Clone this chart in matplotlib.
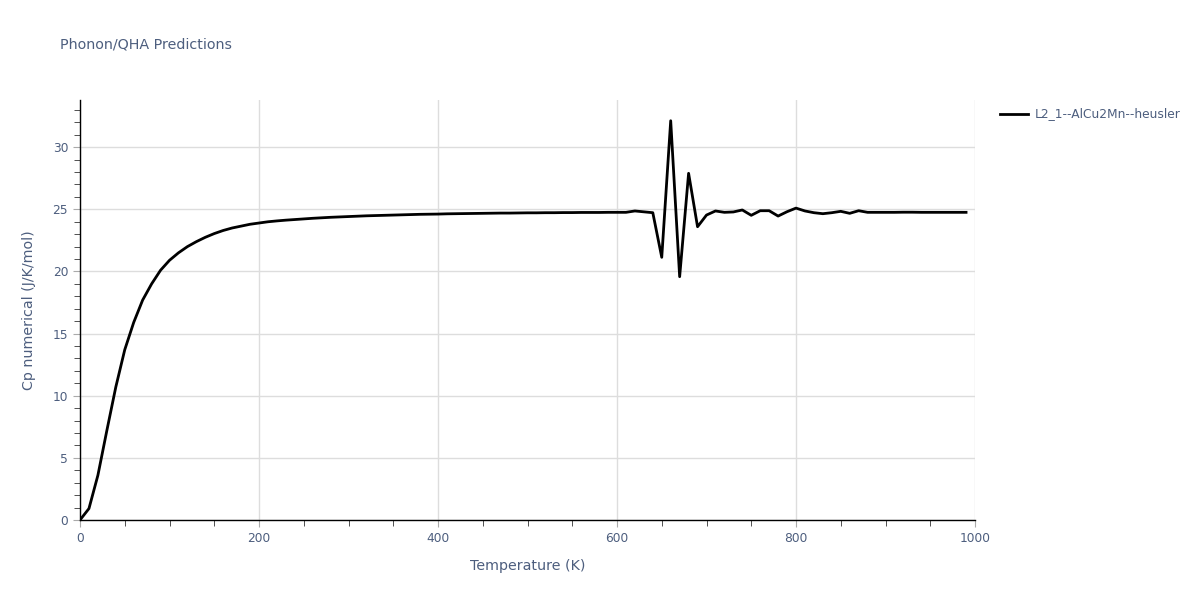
import matplotlib
matplotlib.use("Agg")
import matplotlib.pyplot as plt
from matplotlib.ticker import MultipleLocator
from matplotlib.lines import Line2D

temperature = list(range(0, 1000, 10))
cp_low = [0.0, 0.92, 3.6, 7.2, 10.7, 13.7, 15.9, 17.7, 19.0, 20.1,
          20.9, 21.5, 22.0, 22.4, 22.75, 23.05, 23.3, 23.5, 23.65, 23.8,
          23.9, 24.0, 24.07, 24.13, 24.18, 24.23, 24.28, 24.32, 24.36, 24.39,
          24.42, 24.45, 24.48, 24.5, 24.52, 24.54, 24.56, 24.58, 24.6, 24.61,
          24.62, 24.64, 24.65, 24.66, 24.67, 24.68, 24.69, 24.7, 24.7, 24.71,
          24.72, 24.72, 24.73, 24.73, 24.74, 24.74, 24.75, 24.75, 24.75, 24.76]
cp_high = [24.76, 24.76, 24.87, 24.8, 24.73, 21.14, 32.13, 19.58, 27.9, 23.6,
           24.54, 24.87, 24.76, 24.79, 24.95, 24.52, 24.89, 24.89, 24.46, 24.81,
           25.1, 24.87, 24.73, 24.65, 24.73, 24.84, 24.68, 24.89, 24.76, 24.76,
           24.76, 24.76, 24.77, 24.77, 24.76, 24.76, 24.76, 24.76, 24.76, 24.76]
cp = cp_low + cp_high
series_name = "L2_1--AlCu2Mn--heusler"

txt = '#4d5e7e'
fig = plt.figure(figsize=(12, 6), dpi=100)
ax = fig.add_axes([80/1200, 1-520/600, 895/1200, 420/600])
ax.plot(temperature, cp, color='black', lw=2, zorder=3)
ax.set_xlim(0, 1000)
ax.set_ylim(0, 33.8)
ax.xaxis.set_major_locator(MultipleLocator(200))
ax.xaxis.set_minor_locator(MultipleLocator(50))
ax.yaxis.set_major_locator(MultipleLocator(5))
ax.yaxis.set_minor_locator(MultipleLocator(1))
ax.grid(True, which='major', color='#dddddd', lw=1)
ax.set_axisbelow(True)
for s in ['top', 'right']:
    ax.spines[s].set_visible(False)
for s in ['left', 'bottom']:
    ax.spines[s].set_color('black')
    ax.spines[s].set_linewidth(1)
ax.tick_params(which='both', direction='out', labelcolor=txt, labelsize=8.8)
ax.tick_params(which='major', length=5, color='#aaaaaa')
ax.tick_params(which='minor', length=4, color='#333333')
ax.set_xlabel("Temperature (K)", fontsize=10.3, color=txt, labelpad=10)
ax.set_ylabel("Cp numerical (J/K/mol)", fontsize=10.3, color=txt, labelpad=12)
fig.text(60/1200, 1-45/600, "Phonon/QHA Predictions", fontsize=10.3, color=txt, va='center', ha='left')
fig.add_artist(Line2D([1000/1200, 1028/1200], [1-114/600, 1-114/600], color='black', lw=2))
fig.text(1035/1200, 1-114/600, series_name, fontsize=8.8, color=txt, va='center', ha='left')
fig.savefig("out.png", dpi=100)
